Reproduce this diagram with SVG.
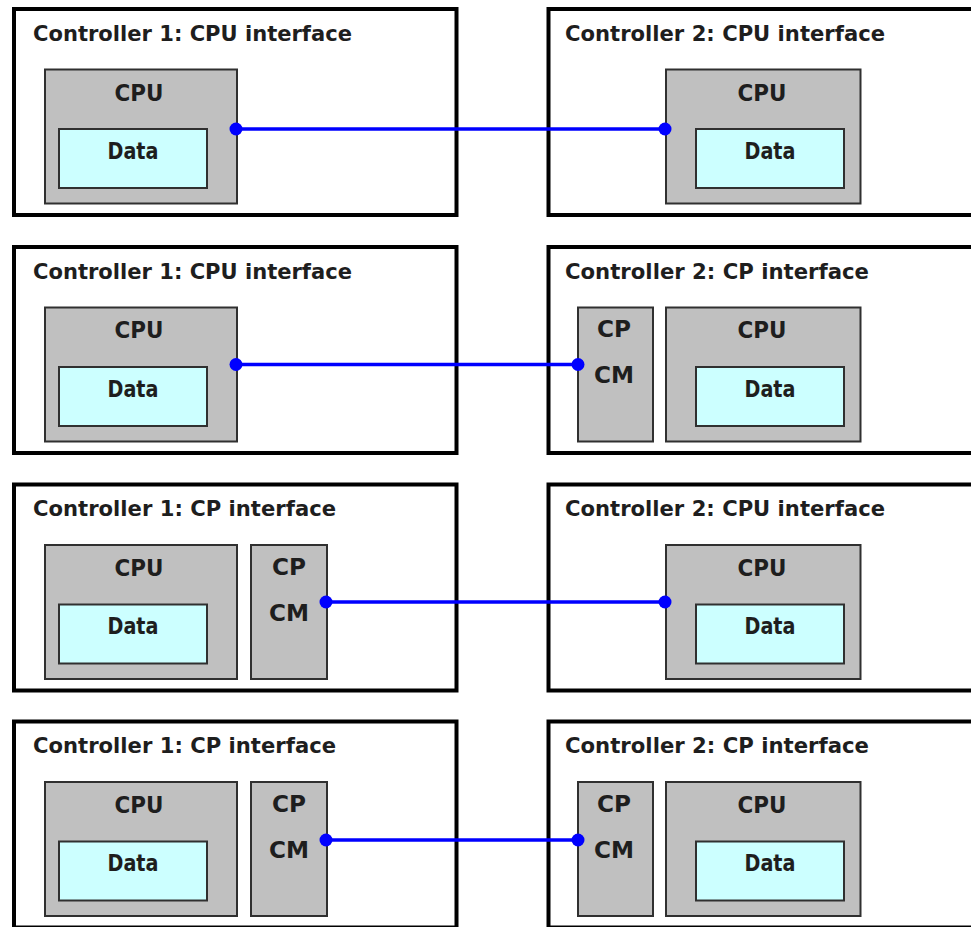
<svg xmlns="http://www.w3.org/2000/svg" width="971" height="927" viewBox="0 0 971 927">
<style>
.outer{fill:#ffffff;stroke:#000000;stroke-width:4}
.box{fill:#c0c0c0;stroke:#303030;stroke-width:2}
.data{fill:#ccffff;stroke:#303030;stroke-width:2}
text{font-family:"DejaVu Sans","Liberation Sans",sans-serif;font-weight:bold;fill:#1e1e1e}
.title{font-size:21.5px}
.lbl{font-size:22.5px;text-anchor:middle}
.conn{stroke:#0000ff;stroke-width:3.5;fill:none;marker-start:url(#dot);marker-end:url(#dot)}
</style>
<defs>
<marker id="dot" markerUnits="userSpaceOnUse" markerWidth="14" markerHeight="14" refX="7" refY="7" viewBox="0 0 14 14">
<circle cx="7" cy="7" r="6.5" fill="#0000ff"/>
</marker>
</defs>
<rect width="971" height="927" fill="#ffffff"/>

<!-- Row 1 -->
<g transform="translate(0,9)">
<g id="r1-ctrl1">
<rect class="outer" x="14" y="0" width="442.5" height="206"/>
<text class="title" x="33" y="31.5" textLength="319" lengthAdjust="spacingAndGlyphs">Controller 1: CPU interface</text>
<g id="r1-ctrl1-cpu"><rect class="box" x="45" y="60.5" width="192" height="134"/><text class="lbl" x="139" y="92" textLength="49" lengthAdjust="spacingAndGlyphs">CPU</text></g>
<g id="r1-ctrl1-data"><rect class="data" x="59" y="120" width="148" height="59"/><text class="lbl" x="133" y="149.5" textLength="51" lengthAdjust="spacingAndGlyphs">Data</text></g>
</g>
<g id="r1-ctrl2">
<rect class="outer" x="548.5" y="0" width="440" height="206"/>
<text class="title" x="565" y="31.5" textLength="320" lengthAdjust="spacingAndGlyphs">Controller 2: CPU interface</text>
<g id="r1-ctrl2-cpu"><rect class="box" x="666" y="60.5" width="194.5" height="134"/><text class="lbl" x="762" y="92" textLength="49" lengthAdjust="spacingAndGlyphs">CPU</text></g>
<g id="r1-ctrl2-data"><rect class="data" x="696" y="120" width="148" height="59"/><text class="lbl" x="770" y="149.5" textLength="51" lengthAdjust="spacingAndGlyphs">Data</text></g>
</g>
</g>

<!-- Row 2 -->
<g transform="translate(0,247)">
<g id="r2-ctrl1">
<rect class="outer" x="14" y="0" width="442.5" height="206"/>
<text class="title" x="33" y="31.5" textLength="319" lengthAdjust="spacingAndGlyphs">Controller 1: CPU interface</text>
<g id="r2-ctrl1-cpu"><rect class="box" x="45" y="60.5" width="192" height="134"/><text class="lbl" x="139" y="91" textLength="49" lengthAdjust="spacingAndGlyphs">CPU</text></g>
<g id="r2-ctrl1-data"><rect class="data" x="59" y="120" width="148" height="59"/><text class="lbl" x="133" y="149.5" textLength="51" lengthAdjust="spacingAndGlyphs">Data</text></g>
</g>
<g id="r2-ctrl2">
<rect class="outer" x="548.5" y="0" width="440" height="206"/>
<text class="title" x="565" y="31.5" textLength="304" lengthAdjust="spacingAndGlyphs">Controller 2: CP interface</text>
<g id="r2-ctrl2-cp"><rect class="box" x="578" y="60.5" width="75" height="134"/><text class="lbl" x="614" y="90" textLength="34" lengthAdjust="spacingAndGlyphs">CP</text><text class="lbl" x="614" y="136" textLength="40" lengthAdjust="spacingAndGlyphs">CM</text></g>
<g id="r2-ctrl2-cpu"><rect class="box" x="666" y="60.5" width="194.5" height="134"/><text class="lbl" x="762" y="91" textLength="49" lengthAdjust="spacingAndGlyphs">CPU</text></g>
<g id="r2-ctrl2-data"><rect class="data" x="696" y="120" width="148" height="59"/><text class="lbl" x="770" y="149.5" textLength="51" lengthAdjust="spacingAndGlyphs">Data</text></g>
</g>
</g>

<!-- Row 3 -->
<g transform="translate(0,484.5)">
<g id="r3-ctrl1">
<rect class="outer" x="14" y="0" width="442.5" height="206"/>
<text class="title" x="33" y="31.5" textLength="303" lengthAdjust="spacingAndGlyphs">Controller 1: CP interface</text>
<g id="r3-ctrl1-cpu"><rect class="box" x="45" y="60.5" width="192" height="134"/><text class="lbl" x="139" y="91" textLength="49" lengthAdjust="spacingAndGlyphs">CPU</text></g>
<g id="r3-ctrl1-data"><rect class="data" x="59" y="120" width="148" height="59"/><text class="lbl" x="133" y="149.5" textLength="51" lengthAdjust="spacingAndGlyphs">Data</text></g>
<g id="r3-ctrl1-cp"><rect class="box" x="251" y="60.5" width="76" height="134"/><text class="lbl" x="289" y="90" textLength="34" lengthAdjust="spacingAndGlyphs">CP</text><text class="lbl" x="289" y="136" textLength="40" lengthAdjust="spacingAndGlyphs">CM</text></g>
</g>
<g id="r3-ctrl2">
<rect class="outer" x="548.5" y="0" width="440" height="206"/>
<text class="title" x="565" y="31.5" textLength="320" lengthAdjust="spacingAndGlyphs">Controller 2: CPU interface</text>
<g id="r3-ctrl2-cpu"><rect class="box" x="666" y="60.5" width="194.5" height="134"/><text class="lbl" x="762" y="91" textLength="49" lengthAdjust="spacingAndGlyphs">CPU</text></g>
<g id="r3-ctrl2-data"><rect class="data" x="696" y="120" width="148" height="59"/><text class="lbl" x="770" y="149.5" textLength="51" lengthAdjust="spacingAndGlyphs">Data</text></g>
</g>
</g>

<!-- Row 4 -->
<g transform="translate(0,721.5)">
<g id="r4-ctrl1">
<rect class="outer" x="14" y="0" width="442.5" height="206"/>
<text class="title" x="33" y="31.5" textLength="303" lengthAdjust="spacingAndGlyphs">Controller 1: CP interface</text>
<g id="r4-ctrl1-cpu"><rect class="box" x="45" y="60.5" width="192" height="134"/><text class="lbl" x="139" y="91" textLength="49" lengthAdjust="spacingAndGlyphs">CPU</text></g>
<g id="r4-ctrl1-data"><rect class="data" x="59" y="120" width="148" height="59"/><text class="lbl" x="133" y="149.5" textLength="51" lengthAdjust="spacingAndGlyphs">Data</text></g>
<g id="r4-ctrl1-cp"><rect class="box" x="251" y="60.5" width="76" height="134"/><text class="lbl" x="289" y="90" textLength="34" lengthAdjust="spacingAndGlyphs">CP</text><text class="lbl" x="289" y="136" textLength="40" lengthAdjust="spacingAndGlyphs">CM</text></g>
</g>
<g id="r4-ctrl2">
<rect class="outer" x="548.5" y="0" width="440" height="206"/>
<text class="title" x="565" y="31.5" textLength="304" lengthAdjust="spacingAndGlyphs">Controller 2: CP interface</text>
<g id="r4-ctrl2-cp"><rect class="box" x="578" y="60.5" width="75" height="134"/><text class="lbl" x="614" y="90" textLength="34" lengthAdjust="spacingAndGlyphs">CP</text><text class="lbl" x="614" y="136" textLength="40" lengthAdjust="spacingAndGlyphs">CM</text></g>
<g id="r4-ctrl2-cpu"><rect class="box" x="666" y="60.5" width="194.5" height="134"/><text class="lbl" x="762" y="91" textLength="49" lengthAdjust="spacingAndGlyphs">CPU</text></g>
<g id="r4-ctrl2-data"><rect class="data" x="696" y="120" width="148" height="59"/><text class="lbl" x="770" y="149.5" textLength="51" lengthAdjust="spacingAndGlyphs">Data</text></g>
</g>
</g>

<g id="connectors">
<line class="conn" x1="236" y1="129" x2="665" y2="129"/>
<line class="conn" x1="236" y1="364.5" x2="578" y2="364.5"/>
<line class="conn" x1="326" y1="602" x2="665" y2="602"/>
<line class="conn" x1="326" y1="840" x2="578" y2="840"/>
</g>
</svg>
